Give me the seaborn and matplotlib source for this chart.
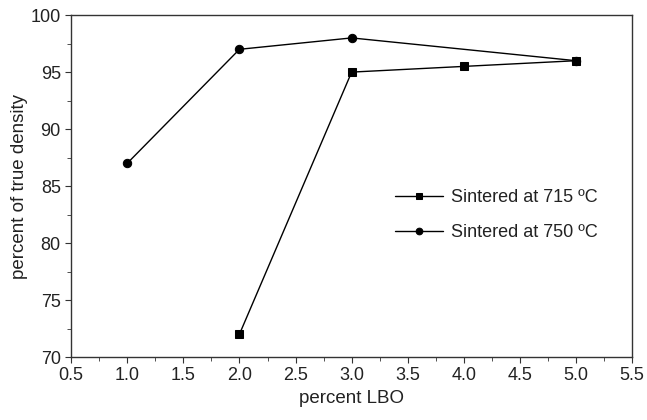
import numpy as np
import pandas as pd
import matplotlib.pyplot as plt
import seaborn as sns
from matplotlib.ticker import MultipleLocator

sns.set_style('ticks')
plt.rcParams['font.family'] = ['Liberation Sans', 'DejaVu Sans']

lbo_715 = [2.0, 3.0, 4.0, 5.0]
density_715 = [72.0, 95.0, 95.5, 96.0]
lbo_750 = [1.0, 2.0, 3.0, 5.0]
density_750 = [87.0, 97.0, 98.0, 96.0]

fig, ax = plt.subplots(figsize=(6.47, 4.2), dpi=100)
fig.subplots_adjust(left=0.11, right=0.977, top=0.964, bottom=0.15)

sns.lineplot(x=lbo_715, y=density_715, ax=ax, color='black', lw=1.0,
             marker='s', markersize=5.5, markeredgecolor='black',
             label='Sintered at 715 \u00baC')
sns.lineplot(x=lbo_750, y=density_750, ax=ax, color='black', lw=1.0,
             marker='o', markersize=6, markeredgecolor='black',
             label='Sintered at 750 \u00baC')

ax.set_xlim(0.5, 5.5)
ax.set_ylim(70, 100)
ax.xaxis.set_major_locator(MultipleLocator(0.5))
ax.xaxis.set_minor_locator(MultipleLocator(0.25))
ax.yaxis.set_major_locator(MultipleLocator(5))
ax.yaxis.set_minor_locator(MultipleLocator(2.5))
ax.xaxis.set_major_formatter(plt.FormatStrFormatter('%.1f'))
ax.tick_params(which='both', direction='out', labelsize=13, color='#333333',
               labelcolor='#222222')
ax.tick_params(which='major', length=4)
ax.tick_params(which='minor', length=3)
for s in ax.spines.values():
    s.set_color('#333333')
    s.set_linewidth(1.0)

ax.set_xlabel('percent LBO', fontsize=13.5, color='#222222')
ax.set_ylabel('percent of true density', fontsize=13.5, color='#222222',
              labelpad=2)
leg = ax.legend(loc='center left', bbox_to_anchor=(0.6105, 0.487),
                bbox_transform=fig.transFigure, frameon=False, fontsize=13,
                handlelength=2.65, handletextpad=0.45, labelspacing=1.0,
                borderpad=0, borderaxespad=0, markerscale=0.8)
for t in leg.get_texts():
    t.set_color('#222222')

plt.savefig('out.png', dpi=100)
